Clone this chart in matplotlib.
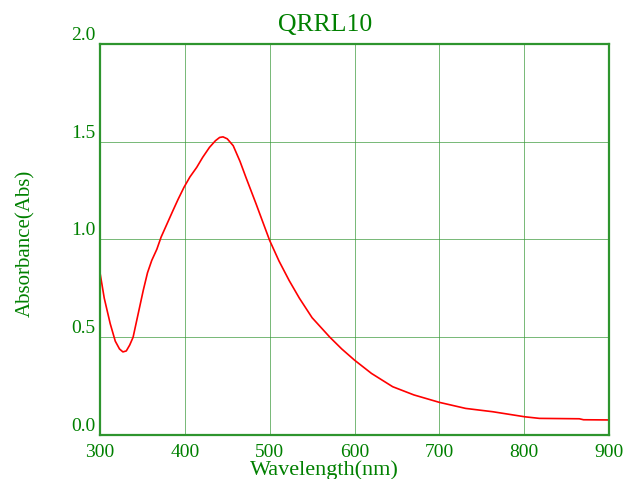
import matplotlib.pyplot as plt

# spectrum
wavelength = [300, 305, 312, 318, 323, 327, 331, 335, 339, 345, 351, 356, 361, 367,
              372, 379, 386, 392, 399, 406, 414, 421, 429, 436, 441, 445, 450, 457,
              465, 472, 478, 484, 491, 500, 511, 523, 535, 550, 571, 585, 600, 620,
              645, 670, 700, 731, 763, 801, 818, 865, 870, 900]
absorbance = [0.83, 0.70, 0.57, 0.48, 0.44, 0.425, 0.43, 0.46, 0.50, 0.62, 0.74, 0.83,
              0.893, 0.95, 1.012, 1.08, 1.148, 1.205, 1.267, 1.32, 1.369, 1.42, 1.471,
              1.505, 1.522, 1.525, 1.515, 1.48, 1.40, 1.318, 1.25, 1.182, 1.10, 0.995,
              0.89, 0.79, 0.70, 0.60, 0.50, 0.44, 0.383, 0.315, 0.247, 0.205, 0.167,
              0.136, 0.119, 0.093, 0.085, 0.083, 0.078, 0.077]
xticks = [300, 400, 500, 600, 700, 800, 900]
yticks = [0.0, 0.5, 1.0, 1.5, 2.0]
ytick_labels = ['0.0', '0.5', '1.0', '1.5', '2.0']

green = '#008000'
plt.rcParams['font.family'] = ['Liberation Serif', 'DejaVu Serif']

fig = plt.figure(figsize=(6.24, 4.79), dpi=100)
ax = fig.add_axes([100/624, 1-435/479, 509/624, 391/479])

ax.plot(wavelength, absorbance, color='#ff0000', lw=1.2)
ax.set_xlim(300, 900)
ax.set_ylim(0, 2)
ax.set_xticks(xticks)
ax.set_yticks(yticks)
ax.set_yticklabels(ytick_labels)
ax.grid(True, color='#3c9a3c', lw=0.7, alpha=0.7)
ax.tick_params(length=0, labelsize=14, colors=green)
ax.tick_params(axis='x', pad=6.5)
ax.tick_params(axis='y', pad=3)
for lab in ax.get_yticklabels():
    lab.set_verticalalignment('bottom')
for s in ax.spines.values():
    s.set_color('#2e952e')
    s.set_linewidth(1.6)

fig.text(325/624, 1-31/479, 'QRRL10', color=green, fontsize=18.5, ha='center', va='baseline')
fig.text(324/624, 1-475/479, 'Wavelength(nm)', color=green, fontsize=16, ha='center', va='baseline')
fig.text(26/624, 1-243/479, 'Absorbance(Abs)', color=green, fontsize=15, rotation=90,
         ha='center', va='center')

fig.savefig('out.png', dpi=100)
